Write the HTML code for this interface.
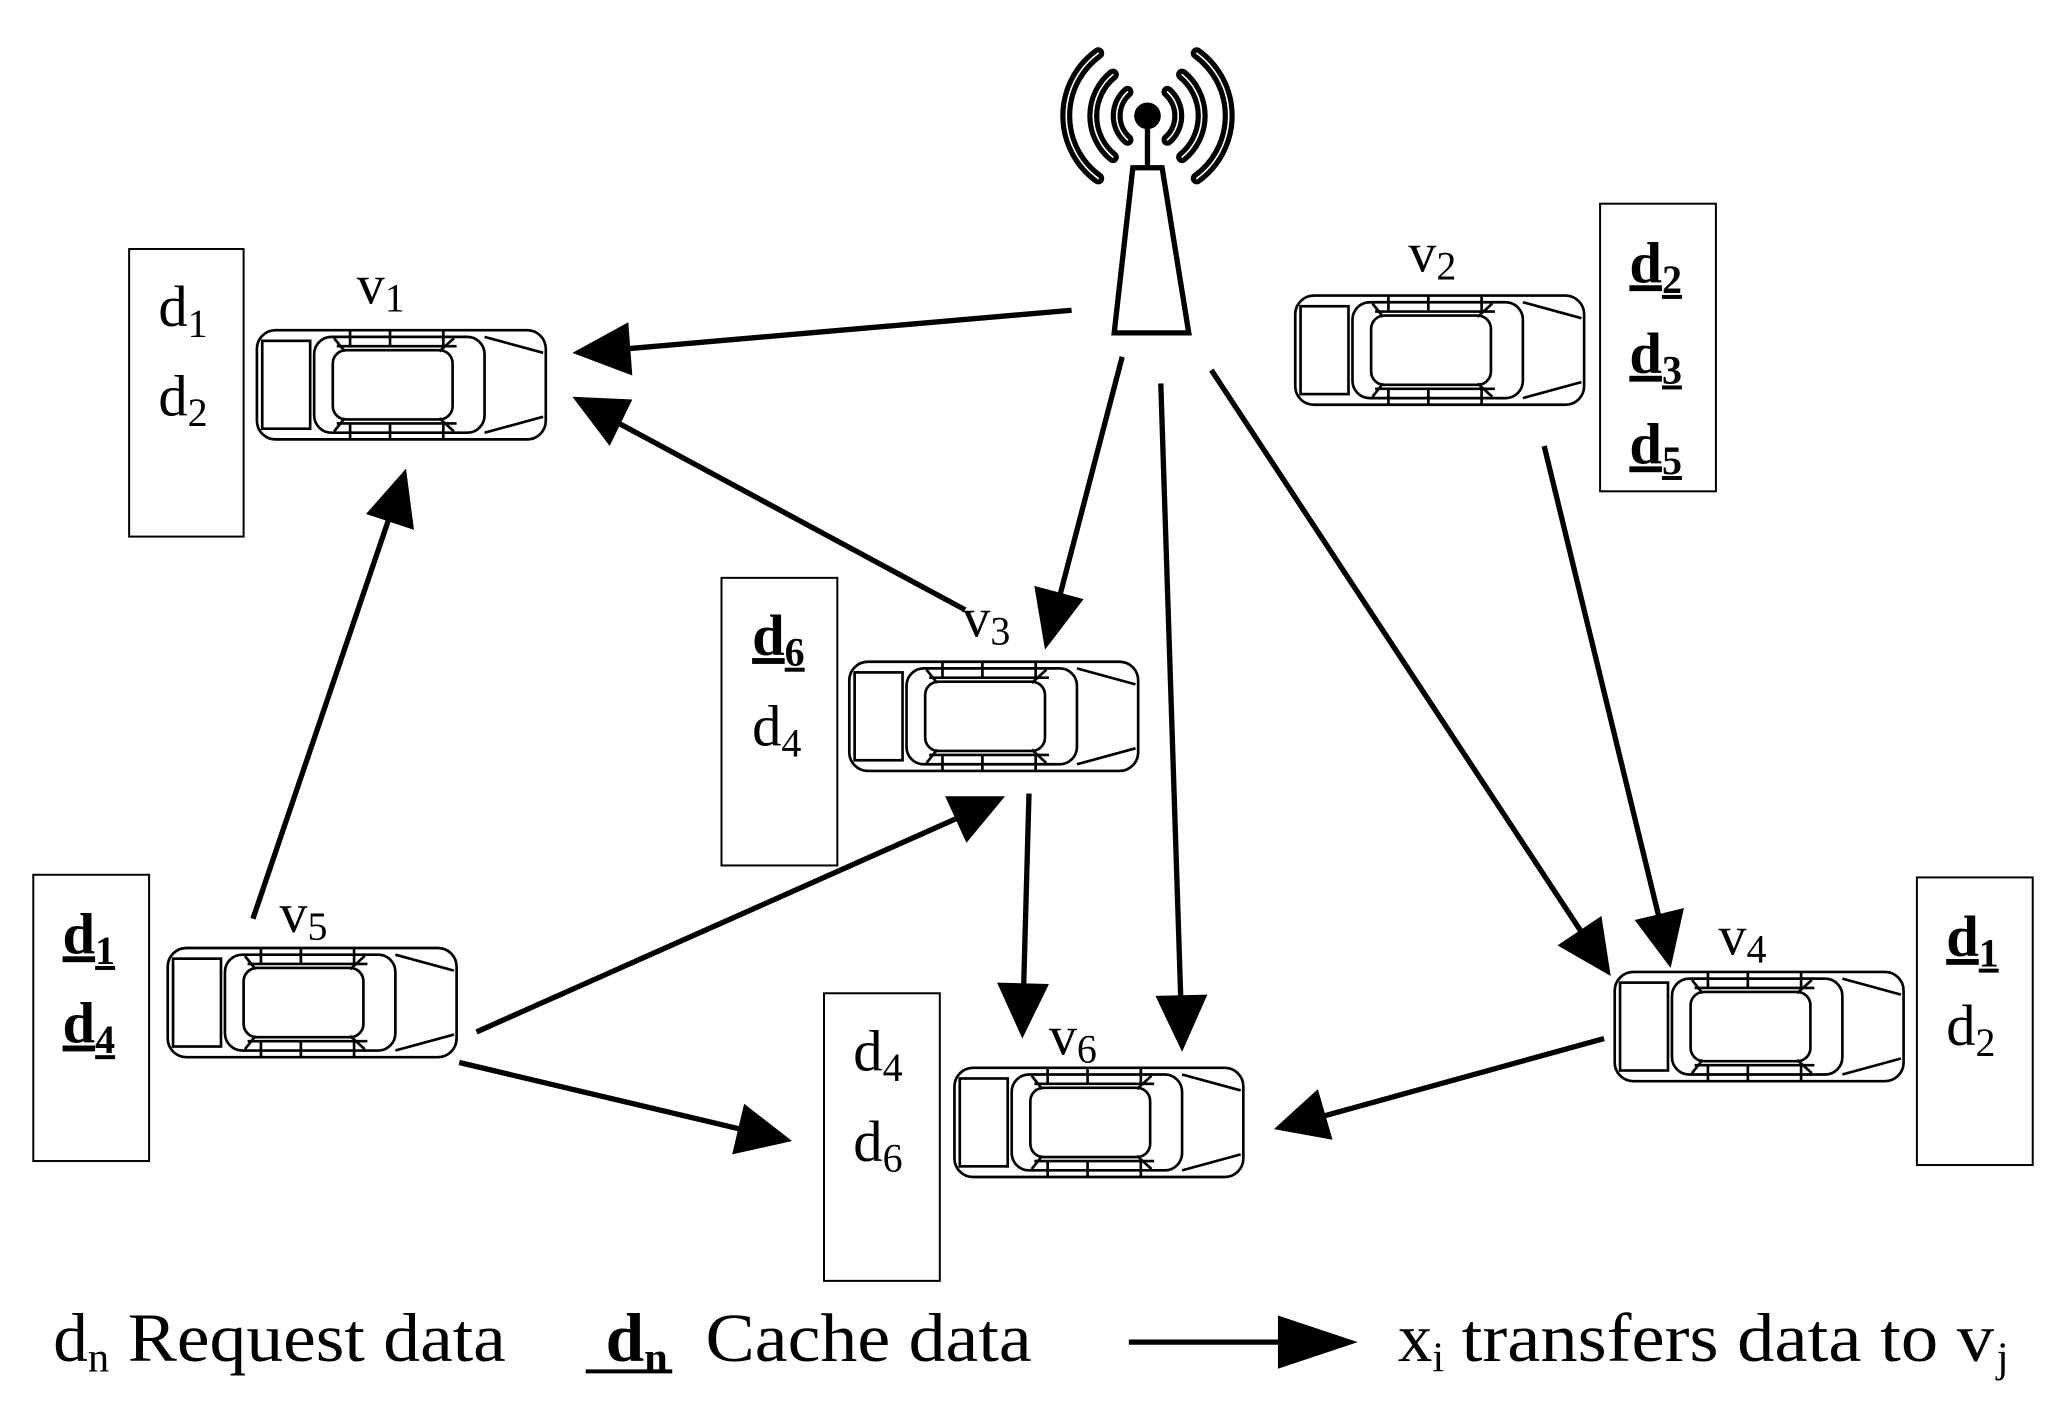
<!DOCTYPE html>
<html><head><meta charset="utf-8"><style>html,body{margin:0;padding:0;background:#fff}svg{display:block}</style></head><body>
<svg width="2066" height="1422" viewBox="0 0 1552 1068" preserveAspectRatio="none" xmlns="http://www.w3.org/2000/svg" font-family="Liberation Serif, serif">
<defs>
<g id="car" fill="none" stroke="#000" stroke-width="2">
<rect x="0" y="0" width="217" height="82" rx="14" fill="#fff"/>
<rect x="4" y="8" width="36" height="66"/>
<rect x="43" y="5" width="128" height="72" rx="13"/>
<rect x="57" y="15" width="90" height="52" rx="10"/>
<path d="M171 5 L215 17 M171 77 L215 65"/>
<path d="M60 12 L150 12 M60 70 L150 70 M70 0 L70 12 M100 0 L100 12 M140 0 L140 12 M70 82 L70 70 M100 82 L100 70 M140 82 L140 70"/>
<path d="M58 6 L66 16 M137 16 L148 6 M58 76 L66 66 M137 66 L148 76"/>
</g>
</defs>
<g stroke="#000" stroke-width="1.5" fill="#fff">
<rect x="97" y="187" width="86" height="216"/>
<rect x="1202" y="153" width="87" height="216"/>
<rect x="542" y="434" width="87" height="216"/>
<rect x="25" y="657" width="87" height="215"/>
<rect x="619" y="746" width="87" height="216"/>
<rect x="1440" y="659" width="87" height="216"/>
</g>
<use href="#car" x="193" y="248"/>
<use href="#car" x="973" y="222"/>
<use href="#car" x="638" y="497"/>
<use href="#car" x="126" y="712"/>
<use href="#car" x="717" y="802"/>
<use href="#car" x="1213" y="730"/>
<g fill="none" stroke-linecap="round">
<circle cx="862" cy="87" r="10" fill="#000"/>
<line x1="862" y1="95" x2="862" y2="126" stroke="#000" stroke-width="4"/>
<polygon points="851,126 873,126 893,250 837,250" stroke="#000" stroke-width="4" fill="#fff"/>
<g stroke="#000" stroke-width="9">
<path d="M847 69 A24 24 0 0 0 847 105"/><path d="M877 69 A24 24 0 0 1 877 105"/>
<path d="M836 56 A40 40 0 0 0 836 118"/><path d="M888 56 A40 40 0 0 1 888 118"/>
<path d="M825 40 A58 58 0 0 0 825 134"/><path d="M899 40 A58 58 0 0 1 899 134"/>
</g>
<g stroke="#fff" stroke-width="1.2">
<path d="M847 69 A24 24 0 0 0 847 105"/><path d="M877 69 A24 24 0 0 1 877 105"/>
<path d="M836 56 A40 40 0 0 0 836 118"/><path d="M888 56 A40 40 0 0 1 888 118"/>
<path d="M825 40 A58 58 0 0 0 825 134"/><path d="M899 40 A58 58 0 0 1 899 134"/>
</g>
</g>
<g stroke="#000" stroke-width="4" fill="#000">
<line x1="805" y1="233" x2="470" y2="262"/><polygon points="430,265 472,242 475,282" stroke="none"/>
<line x1="725" y1="458" x2="465" y2="318"/><polygon points="430,298 475,300 458,335" stroke="none"/>
<line x1="190" y1="690" x2="292" y2="390"/><polygon points="305,352 311,398 275,386" stroke="none"/>
<line x1="843" y1="268" x2="796" y2="448"/><polygon points="785,488 777,440 814,450" stroke="none"/>
<line x1="872" y1="288" x2="887" y2="750"/><polygon points="888,790 868,748 907,747" stroke="none"/>
<line x1="910" y1="278" x2="1188" y2="700"/><polygon points="1210,733 1170,710 1203,688" stroke="none"/>
<line x1="1160" y1="335" x2="1246" y2="688"/><polygon points="1255,727 1228,691 1265,682" stroke="none"/>
<line x1="358" y1="775" x2="718" y2="615"/><polygon points="755,598 726,633 710,598" stroke="none"/>
<line x1="345" y1="798" x2="556" y2="848"/><polygon points="595,857 550,867 559,829" stroke="none"/>
<line x1="773" y1="596" x2="769" y2="740"/><polygon points="768,780 749,738 788,739" stroke="none"/>
<line x1="1205" y1="780" x2="995" y2="838"/><polygon points="957,848 990,818 1001,856" stroke="none"/>
<line x1="848" y1="1008" x2="980" y2="1008"/><polygon points="1020,1008 960,988 960,1028" stroke="none"/>
</g>
<g font-size="42" fill="#000">
<text x="268" y="228">v<tspan font-size="30" dy="6">1</tspan></text>
<text x="1058" y="204">v<tspan font-size="30" dy="6">2</tspan></text>
<text x="723" y="478">v<tspan font-size="30" dy="6">3</tspan></text>
<text x="1291" y="717">v<tspan font-size="30" dy="6">4</tspan></text>
<text x="210" y="700">v<tspan font-size="30" dy="6">5</tspan></text>
<text x="788" y="792">v<tspan font-size="30" dy="6">6</tspan></text>
</g>
<g font-size="44" fill="#000">
<text x="119" y="245">d<tspan font-size="30" dy="8">1</tspan></text>
<text x="119" y="312">d<tspan font-size="30" dy="8">2</tspan></text>
<text x="1224" y="212" font-weight="bold" text-decoration="underline">d<tspan font-size="30" dy="8">2</tspan></text>
<text x="1224" y="280" font-weight="bold" text-decoration="underline">d<tspan font-size="30" dy="8">3</tspan></text>
<text x="1224" y="348" font-weight="bold" text-decoration="underline">d<tspan font-size="30" dy="8">5</tspan></text>
<text x="565" y="492" font-weight="bold" text-decoration="underline">d<tspan font-size="30" dy="8">6</tspan></text>
<text x="565" y="560">d<tspan font-size="30" dy="8">4</tspan></text>
<text x="47" y="716" font-weight="bold" text-decoration="underline">d<tspan font-size="30" dy="8">1</tspan></text>
<text x="47" y="783" font-weight="bold" text-decoration="underline">d<tspan font-size="30" dy="8">4</tspan></text>
<text x="641" y="804">d<tspan font-size="30" dy="8">4</tspan></text>
<text x="641" y="872">d<tspan font-size="30" dy="8">6</tspan></text>
<text x="1462" y="718" font-weight="bold" text-decoration="underline">d<tspan font-size="30" dy="8">1</tspan></text>
<text x="1462" y="785">d<tspan font-size="30" dy="8">2</tspan></text>
</g>
<g font-size="52" fill="#000">
<text x="40" y="1022">d<tspan font-size="32" dy="8">n</tspan></text>
<text x="96" y="1022" textLength="284" lengthAdjust="spacingAndGlyphs">Request data</text>
<text x="455" y="1022" font-weight="bold">d<tspan font-size="32" dy="8">n</tspan></text>
<line x1="440" y1="1030" x2="505" y2="1030" stroke="#000" stroke-width="3"/>
<text x="530" y="1022" textLength="245" lengthAdjust="spacingAndGlyphs">Cache data</text>
<text x="1050" y="1022">x<tspan font-size="32" dy="8">i</tspan></text>
<text x="1098" y="1022" textLength="400" lengthAdjust="spacingAndGlyphs">transfers data to v</text>
<text x="1500" y="1030" font-size="32">j</text>
</g>
</svg>
</body></html>
